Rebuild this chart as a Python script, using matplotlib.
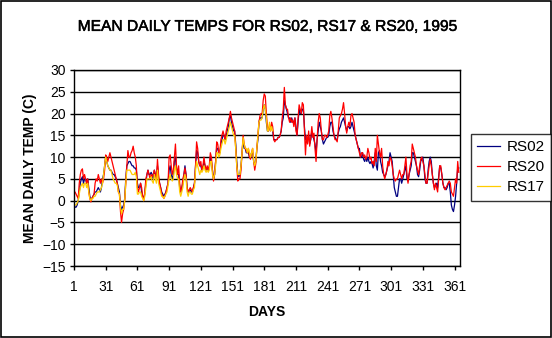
import matplotlib
matplotlib.use('Agg')
import matplotlib.pyplot as plt
import matplotlib.patheffects as pe
import numpy as np

# daily means, 10 days per row
rs02 = [
    -1, -1.5, -1.5, -1, 0, 2, 4, 5, 5.5, 4,
    5, 5, 4, 5, 3, 1, 0.5, 0.5, 1, 1.5,
    2, 2, 2.5, 3, 2.5, 2, 3, 5, 6, 8,
    10, 9, 8, 7.5, 7, 7, 6.5, 6, 6, 5.5,
    5, 4, 3, 2, -1, -2, -1.5, -1, 0.5, 5,
    8, 8.5, 9, 9, 8.5, 8, 8, 7.5, 7.5, 7,
    4, 3, 3, 4, 2, 1, 0.5, 1.5, 4, 6,
    7, 6, 6, 6.5, 6, 5, 7, 6, 5, 8,
    5, 4, 3, 2, 1.5, 1, 1.5, 2, 3, 4,
    7, 8, 6, 5, 6, 9, 10, 7, 6, 6,
    3, 2, 3, 4, 6, 8, 6, 3, 2, 2,
    2.5, 2, 2, 3, 4, 8, 11.5, 11, 9, 8,
    8, 7, 7.5, 9, 8, 7, 7.5, 7, 7.5, 10,
    9, 7, 5, 6, 9, 12, 12, 11, 11, 13,
    14, 15, 15, 14, 15, 16, 17, 19, 19.5, 18,
    17, 16, 16, 13, 9, 6, 5.5, 6, 8, 11,
    14, 12, 12, 11, 11, 11, 10, 10, 11, 11,
    9, 8, 9, 12, 14, 18, 19, 19, 19, 21,
    22, 21, 18, 16, 16, 17, 16.5, 17, 16, 14,
    14, 14, 14, 14.5, 14.5, 15, 16, 18, 19, 23,
    22, 21, 20, 19, 19, 18, 19, 18, 18, 19,
    17, 15, 18, 21, 20, 20, 21, 21, 17, 14,
    14, 14, 15, 13, 14, 16, 15, 14, 13, 11,
    14, 16, 18, 17, 16, 14, 13, 13.5, 14, 14.5,
    14.5, 15, 17, 18, 18, 16, 15, 14.5, 14, 14,
    15.5, 16.5, 17, 18, 18.5, 19, 18, 17, 16, 17,
    17, 16.5, 17, 18, 17, 16, 15, 14, 13, 12,
    12, 10, 10, 11, 9.5, 9, 10, 9, 10, 9,
    8.5, 9, 8.5, 7.5, 9, 11, 8, 7, 11, 11.5,
    9, 8, 6.5, 6, 5.5, 6, 7, 8, 9, 11,
    10, 9, 6, 3, 2, 1, 1, 3, 5, 5,
    4, 5, 6, 7, 8, 5, 4.5, 6, 7, 8,
    11, 11, 10, 9, 8, 6, 5.5, 7, 9, 9.5,
    10, 8, 5, 4, 4, 7, 9, 10, 9, 6,
    4, 3, 3.5, 4, 3, 5.5, 8, 7.5, 6, 4,
    3, 3, 2.5, 3, 4, 4, 2, -1, -2, -2.5,
    -1, 1, 4, 7.5, 7.5,
]

rs20 = [
    1.5, 2, 1.5, 1, 0.5, 4, 6, 7, 7.3, 5,
    6, 5, 4, 5, 2, 0.5, -0.3, 0.5, 1, 1.5,
    4, 5, 4.5, 6, 5, 4, 5, 4, 5, 7,
    10.5, 10, 9, 10, 11, 10, 9, 8, 7, 6,
    5, 4, 2, 1.5, -2.5, -5, -3, -2, 0, 4,
    8, 11.5, 10, 10, 11, 11.5, 12.5, 11, 10, 8,
    3, 2, 3, 4, 3, 1, 0, 2, 5, 6,
    7, 6, 5, 6, 5.5, 6, 7, 6, 5, 9.5,
    6, 4, 3, 1.5, 1, 0.5, 1, 2, 3, 4,
    10, 10.5, 8, 6, 7, 10, 13, 8, 6, 8,
    4, 2, 3, 5, 6, 7.5, 6, 3, 2, 2.5,
    3, 2.5, 2, 3, 4, 8, 13.5, 12, 9, 8,
    9, 7, 8, 10, 8, 7, 8, 7, 8, 11,
    10, 7, 4.5, 6, 9, 13.5, 13, 11, 11, 14,
    15, 16, 15, 14, 16, 17, 18, 19, 20.5, 19,
    18, 17, 16, 12, 8, 4.5, 5, 5, 7, 11,
    15, 13, 12, 11.5, 11, 12, 10, 9.5, 11, 12,
    9, 7, 8.5, 12, 15, 18, 19.5, 20, 20, 23,
    24.5, 24, 20, 17, 16, 17.5, 16, 18, 17, 14,
    13.5, 14, 14, 14.5, 14.5, 15, 16, 19, 21, 26,
    22, 21, 21, 19, 18, 19, 18, 18.5, 17, 19,
    16, 15, 19, 22, 21, 20, 22.5, 22, 16, 10.5,
    15, 13, 16, 12.5, 14.5, 17, 14.5, 15.5, 12, 9,
    14, 18, 20, 19, 16, 14, 14, 15, 15, 14.5,
    15, 16, 19.5, 20.5, 19, 17, 15, 14, 14, 13.5,
    16, 19, 19.5, 20, 21, 22.5, 20, 17, 15.5, 17,
    18, 17, 19.5, 20, 19, 18, 15, 14, 13, 12,
    11, 10, 11, 11, 10, 10.5, 9.5, 10, 12, 11,
    9.5, 10, 8.5, 9, 8, 12, 9, 15, 13, 11,
    10, 12, 8, 6, 5, 6, 7, 9, 8, 10,
    9.5, 8, 6, 5, 4.5, 5, 5, 6, 7, 6,
    5, 6, 6, 8, 10, 6, 4, 6, 8, 9,
    13, 12, 11, 10, 8, 7, 6, 8, 9.5, 10,
    9, 8, 6, 4, 4, 6, 8, 9.5, 8, 6,
    4, 2.5, 4, 3, 2, 5, 8, 8, 6, 4,
    3, 2.5, 3, 3.5, 4, 4.5, 4, 2, 1.5, 1,
    3, 5, 4, 9, 6.5,
]

# RS17 record stops around day 189
rs17 = [
    -1, -1, -1, -0.5, 0, 1.5, 3, 3.5, 4, 3,
    4, 4, 3, 4, 2, 0.5, 0, 0.5, 0.5, 1,
    1, 1.5, 2, 2, 2, 2.5, 3, 4, 6, 8,
    10, 9, 8, 7.5, 7, 7, 6, 5, 4.5, 4,
    4, 3.5, 2, 1.5, -1.5, -3, -2, -2, 0, 4,
    7, 7, 7, 7, 6.5, 6, 6, 6, 6.5, 5.5,
    1.5, 1.5, 2, 2, 1, 0.5, 0, 1, 3, 5,
    5, 5, 5, 5.5, 4.5, 4, 6, 5, 4, 7,
    4, 3, 2, 1, 1, 0.5, 1, 1.5, 2, 3.5,
    5, 6, 5, 4.5, 5, 7, 8, 6, 5, 5,
    2, 1, 2, 3, 5, 6, 5, 2, 1, 2,
    2, 1.5, 1.5, 2.5, 3, 7, 9, 8, 7, 6,
    7, 6.5, 7, 8, 7, 6.5, 7, 6.5, 7, 9,
    9, 6, 5, 6, 8, 11, 11, 10, 10.5, 12,
    13, 14, 14, 13, 14, 15, 16, 17, 18, 17,
    16, 15, 15, 12, 8, 6, 6, 6, 8, 11,
    14.5, 13, 12, 12, 11, 12, 11, 10, 11, 12,
    9, 8, 9, 12, 15, 18, 18.5, 18.5, 19, 21,
    22, 21, 19, 16, 16, 18, 16, 17, 16,
]

series_names = ['RS02', 'RS20', 'RS17']
tick_days = [1, 31, 61, 91, 121, 151, 181, 211, 241, 271, 301, 331, 361]
y_ticks = [-15, -10, -5, 0, 5, 10, 15, 20, 25, 30]

plt.rcParams['font.family'] = ['Liberation Sans', 'DejaVu Sans']

fig = plt.figure(figsize=(5.52, 3.38), dpi=100)
ax = fig.add_axes([0.134, 0.213, 0.699, 0.580])

days02 = np.arange(1, len(rs02) + 1)
days20 = np.arange(1, len(rs20) + 1)
days17 = np.arange(1, len(rs17) + 1)

ax.plot(days02, rs02, color='#000080', lw=0.9, label=series_names[0])
ax.plot(days20, rs20, color='#ff0000', lw=0.9, label=series_names[1])
ax.plot(days17, rs17, color='#ffcc00', lw=0.9, label=series_names[2])

ax.set_xlim(1, 366)
ax.set_ylim(-15, 30)
ax.set_xticks(tick_days)
ax.set_yticks(y_ticks)
ax.tick_params(labelsize=10, length=3, width=1, direction='out', colors='black', pad=3)
ax.tick_params(axis='x', pad=7)
for t in y_ticks:
    ax.axhline(t, color='black', lw=1, zorder=0)
for sp in ax.spines.values():
    sp.set_linewidth(1)
    sp.set_color('black')

ax.set_xlabel('DAYS', fontsize=10, fontweight='bold', labelpad=8)
ax.set_ylabel('MEAN DAILY TEMP (C)', fontsize=10, fontweight='bold', labelpad=4)
fig.text(0.482, 0.922, 'MEAN DAILY TEMPS FOR RS02, RS17 & RS20, 1995',
         ha='center', va='center', fontsize=11.2,
         path_effects=[pe.withStroke(linewidth=0.35, foreground='black')])

leg = fig.legend(loc='upper left', bbox_to_anchor=(0.853, 0.604), frameon=True,
                 fancybox=False, edgecolor='black', fontsize=11, handlelength=1.5,
                 handletextpad=0.4, borderpad=0.42, labelspacing=0.4, borderaxespad=0)
leg.get_frame().set_linewidth(1)

# outer chart border
fig.patches.append(plt.Rectangle((0.001, 0.002), 0.997, 0.996, transform=fig.transFigure,
                                 fill=False, edgecolor='black', lw=1.2))

fig.savefig('out.png', dpi=100)
